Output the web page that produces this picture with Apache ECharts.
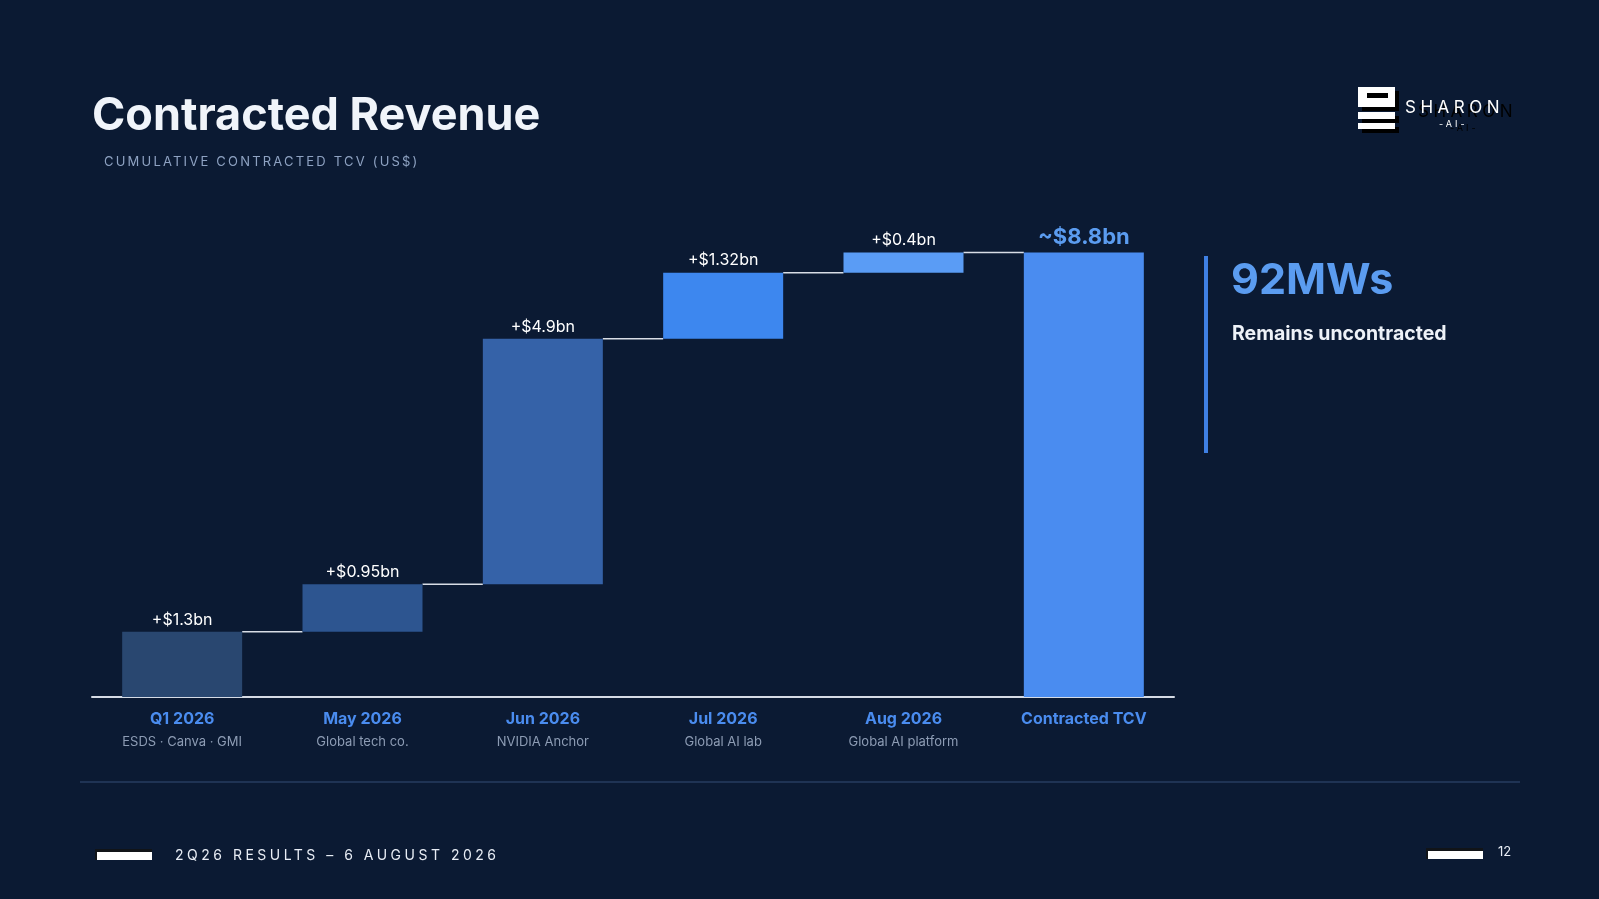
<!DOCTYPE html>
<html>
<head>
<meta charset="utf-8">
<script src="https://cdn.jsdelivr.net/npm/echarts@6/dist/echarts.min.js"></script>
<style>
html,body{margin:0;padding:0;background:#0b1a33;}
#wrap{position:relative;width:1599px;height:899px;overflow:hidden;}
#chart{position:absolute;left:0;top:0;width:1599px;height:899px;}
.sp{position:absolute;white-space:nowrap;font-family:Inter,'Noto Sans',sans-serif;}
</style>
</head>
<body>
<div id="wrap">
	<div id="chart"></div>
	<div class="sp" style="left:104px;top:153px;font-size:13px;line-height:16px;letter-spacing:2.2px;color:#8ea2c2;">CUMULATIVE CONTRACTED TCV (US$)</div>
	<div class="sp" style="left:1418px;top:101px;font-size:17px;line-height:20px;letter-spacing:4.5px;color:#000;">SHARON</div>
	<div class="sp" style="left:1405px;top:97px;font-size:17px;line-height:20px;letter-spacing:4.5px;color:#fff;">SHARON</div>
	<div class="sp" style="left:1450px;top:123px;font-size:9px;line-height:10px;letter-spacing:3px;color:#000;">-AI-</div>
	<div class="sp" style="left:1439px;top:119px;font-size:9px;line-height:10px;letter-spacing:3px;color:#fff;">-AI-</div>
	<div class="sp" style="left:175px;top:846px;font-size:14px;line-height:18px;letter-spacing:3.5px;color:#e8edf5;">2Q26 RESULTS – 6 AUGUST 2026</div>
</div>
<script>
var categories = ['Q1 2026', 'May 2026', 'Jun 2026', 'Jul 2026', 'Aug 2026', 'Contracted TCV'];
var customers = ['ESDS · Canva · GMI', 'Global tech co.', 'NVIDIA Anchor', 'Global AI lab', 'Global AI platform', ''];
var increments = [1.3, 0.95, 4.9, 1.32, 0.4];
var barLabels = ['+$1.3bn', '+$0.95bn', '+$4.9bn', '+$1.32bn', '+$0.4bn', '~$8.8bn'];
var barColors = ['#294770', '#2d5590', '#3562a8', '#3d87ef', '#5a9cf5', '#4a8cf0'];

var font = 'Inter, "Noto Sans", sans-serif';

// waterfall: invisible base + visible step, total bar at the end
var base = [], steps = [], cum = [], running = 0;
for (var i = 0; i < increments.length; i++) {
	base.push(running);
	running += increments[i];
	cum.push([i, running]);
	steps.push({value: increments[i], itemStyle: {color: barColors[i]}});
}
base.push(0);
steps.push({
	value: running,
	itemStyle: {color: barColors[5]},
	label: {color: '#5b9cf0', fontSize: 22, fontWeight: 'bold', distance: 4}
});

var chart = echarts.init(document.getElementById('chart'));

var option = {
	backgroundColor: '#0b1a33',
	animation: false,
	grid: {left: 92, right: 425, top: 196, bottom: 202},
	xAxis: {
		type: 'category',
		data: categories,
		axisTick: {show: false},
		axisLine: {lineStyle: {color: '#d5dbe5', width: 2}},
		axisLabel: {
			margin: 11,
			interval: 0,
			formatter: function (v, idx) {
				return '{a|' + v + '}\n{b|' + customers[idx] + '}';
			},
			rich: {
				a: {color: '#4a8cef', fontWeight: 'bold', fontSize: 16, lineHeight: 22, fontFamily: font},
				b: {color: '#8d9cb4', fontSize: 13, lineHeight: 24, fontFamily: font}
			}
		}
	},
	yAxis: {type: 'value', min: 0, max: 10, show: false, splitLine: {show: false}},
	series: [
		{
			name: 'base',
			type: 'bar',
			stack: 'w',
			barWidth: 120,
			itemStyle: {color: 'transparent'},
			emphasis: {disabled: true},
			data: base
		},
		{
			name: 'value',
			type: 'bar',
			stack: 'w',
			barWidth: 120,
			label: {
				show: true,
				position: 'top',
				distance: 4,
				color: '#ffffff',
				fontSize: 16,
				fontFamily: font,
				formatter: function (p) { return barLabels[p.dataIndex]; }
			},
			data: steps
		},
		{
			name: 'connector',
			type: 'custom',
			z: 1,
			encode: {x: 0, y: 1},
			renderItem: function (params, api) {
				var p = api.coord([api.value(0), api.value(1)]);
				var band = api.size([1, 0])[0];
				return {
					type: 'line',
					shape: {x1: p[0] + 60, y1: p[1], x2: p[0] + band - 60, y2: p[1]},
					style: {stroke: '#d8dde6', lineWidth: 1.5}
				};
			},
			data: cum
		}
	],
	graphic: [
		{type: 'text', left: 92, top: 94, style: {text: 'Contracted Revenue', font: 'bold 45px ' + font, fill: '#f0f4fa'}},
		// logo mark
		{type: 'rect', shape: {x: 1362, y: 91, width: 37, height: 20}, style: {fill: '#000'}},
		{type: 'rect', shape: {x: 1362, y: 116, width: 37, height: 7}, style: {fill: '#000'}},
		{type: 'rect', shape: {x: 1362, y: 127, width: 37, height: 6}, style: {fill: '#000'}},
		{type: 'rect', shape: {x: 1358, y: 87, width: 37, height: 20}, style: {fill: '#fff'}},
		{type: 'rect', shape: {x: 1367, y: 93, width: 21, height: 5}, style: {fill: '#000'}},
		{type: 'rect', shape: {x: 1358, y: 112, width: 37, height: 7}, style: {fill: '#fff'}},
		{type: 'rect', shape: {x: 1358, y: 123, width: 37, height: 6}, style: {fill: '#fff'}},
		// right panel
		{type: 'rect', shape: {x: 1204, y: 256, width: 4, height: 197}, style: {fill: '#3f80e4'}},
		{type: 'text', left: 1231, top: 260, style: {text: '92MWs', font: 'bold 43px ' + font, fill: '#5b9cf0'}},
		{type: 'text', left: 1232, top: 324, style: {text: 'Remains uncontracted', font: 'bold 19.5px ' + font, fill: '#eef2f8'}},
		// separator + footer
		{type: 'line', shape: {x1: 80, y1: 782, x2: 1520, y2: 782}, style: {stroke: '#1f3354', lineWidth: 2}},
		{type: 'rect', shape: {x: 95, y: 849, width: 57, height: 11}, style: {fill: '#111418'}},
		{type: 'rect', shape: {x: 97, y: 852, width: 55, height: 8}, style: {fill: '#ffffff'}},
		{type: 'rect', shape: {x: 1426, y: 848, width: 57, height: 11}, style: {fill: '#111418'}},
		{type: 'rect', shape: {x: 1428, y: 851, width: 55, height: 8}, style: {fill: '#ffffff'}},
		{type: 'text', left: 1498, top: 846, style: {text: '12', font: '13px ' + font, fill: '#e8edf5'}}
	]
};

chart.setOption(option);
</script>
</body>
</html>
